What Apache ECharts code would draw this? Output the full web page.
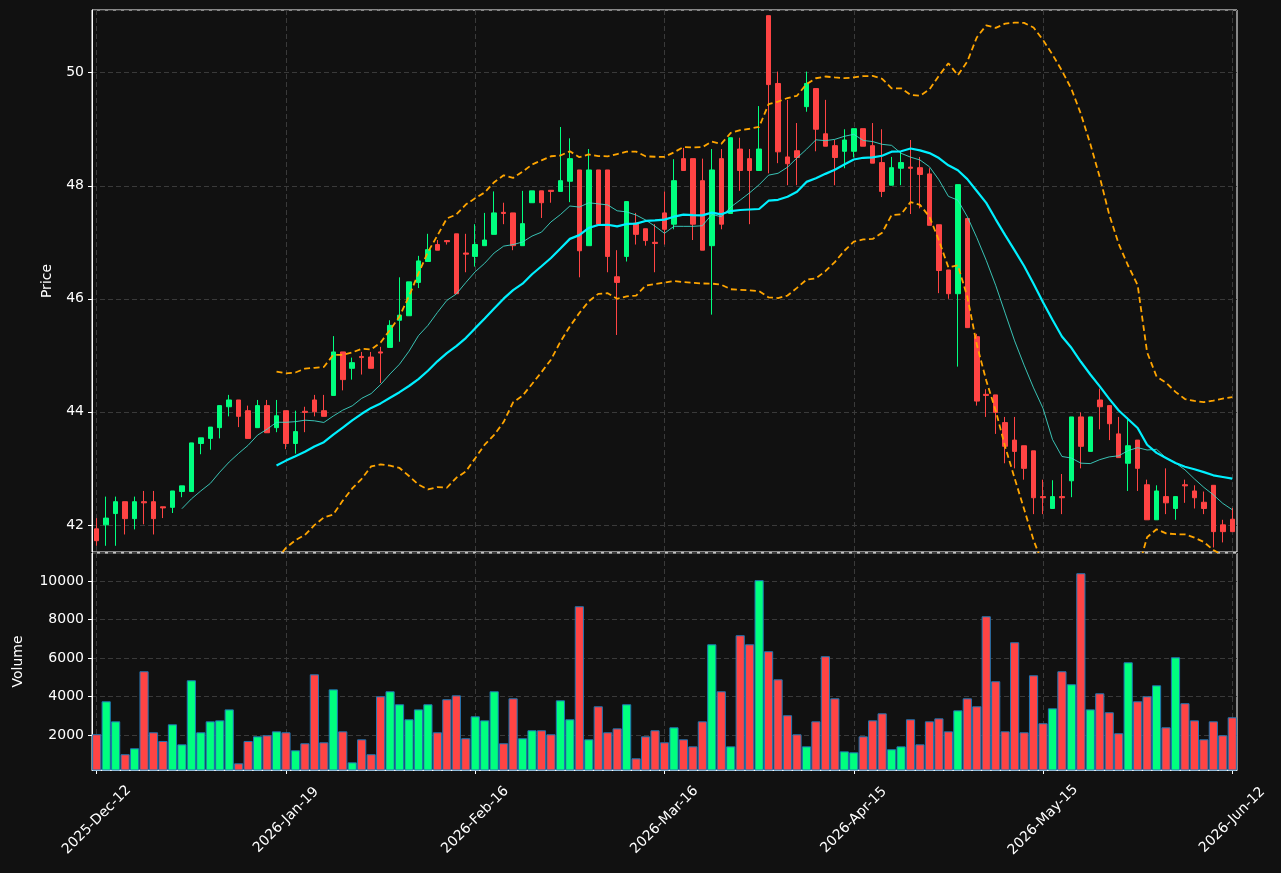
<!DOCTYPE html>
<html>
<head>
<meta charset="utf-8">
<script src="https://cdn.jsdelivr.net/npm/echarts@6/dist/echarts.min.js"></script>
<style>
  html, body { margin: 0; padding: 0; background: #111111; }
  #box { width: 1281px; height: 873px; }
</style>
</head>
<body>
<div id="box"></div>
<script>
// tick labels shown every 20 bars
const tickStep = 20;
const tickLabels = ["2025-Dec-12", "2026-Jan-19", "2026-Feb-16", "2026-Mar-16", "2026-Apr-15", "2026-May-15", "2026-Jun-12"];

// OHLC
const opens = [
  41.93, 42.00, 42.20, 42.41, 42.11, 42.41, 42.41, 42.32, 42.31, 42.59,
  42.59, 43.44, 43.53, 43.72, 44.09, 44.21, 44.02, 43.72, 44.11, 43.72,
  44.02, 43.44, 44.01, 44.21, 44.02, 44.29, 45.06, 44.77, 44.98, 44.97,
  45.06, 45.14, 45.62, 45.70, 46.29, 46.66, 46.96, 47.03, 47.15, 46.81,
  46.75, 46.94, 47.14, 47.53, 47.52, 46.94, 47.70, 47.91, 47.92, 47.90,
  48.08, 48.28, 46.94, 48.28, 48.28, 46.39, 46.75, 47.34, 47.24, 47.00,
  47.52, 47.32, 48.48, 48.48, 48.09, 46.94, 48.48, 47.51, 48.65, 48.48,
  48.27, 51.01, 49.81, 48.51, 48.62, 49.40, 49.72, 48.92, 48.71, 48.61,
  48.61, 49.01, 48.71, 48.41, 48.01, 48.31, 48.33, 48.32, 48.21, 47.31,
  46.51, 46.09, 47.42, 45.33, 44.31, 44.30, 43.81, 43.50, 43.40, 43.31,
  42.50, 42.29, 42.50, 42.78, 43.91, 43.30, 44.21, 44.11, 43.61, 43.09,
  43.50, 42.71, 42.09, 42.50, 42.29, 42.71, 42.60, 42.40, 42.70, 42.00,
  42.10
];
const closes = [
  41.72, 42.12, 42.41, 42.11, 42.41, 42.39, 42.11, 42.30, 42.60, 42.69,
  43.45, 43.54, 43.73, 44.11, 44.21, 43.92, 43.53, 44.11, 43.63, 43.93,
  43.44, 43.65, 43.99, 44.00, 43.92, 45.06, 44.57, 44.87, 44.96, 44.77,
  45.04, 45.53, 45.71, 46.30, 46.67, 46.87, 46.86, 47.01, 46.09, 46.79,
  46.96, 47.04, 47.52, 47.51, 46.94, 47.33, 47.91, 47.70, 47.90, 48.09,
  48.48, 46.85, 48.28, 47.32, 46.75, 46.29, 47.72, 47.14, 47.03, 46.98,
  47.23, 48.09, 48.27, 47.32, 46.86, 48.28, 47.32, 48.85, 48.27, 48.27,
  48.65, 49.79, 48.60, 48.39, 48.50, 49.81, 49.00, 48.70, 48.50, 48.81,
  49.01, 48.70, 48.40, 47.90, 48.32, 48.41, 48.31, 48.20, 47.30, 46.50,
  46.09, 48.02, 45.49, 44.19, 44.29, 43.99, 43.39, 43.30, 43.00, 42.48,
  42.48, 42.50, 42.48, 43.91, 43.39, 43.91, 44.09, 43.79, 43.19, 43.40,
  43.00, 42.09, 42.60, 42.39, 42.50, 42.69, 42.48, 42.29, 41.88, 41.88,
  41.88
];
const lows = [
  41.63, 41.63, 41.63, 41.83, 41.92, 42.01, 41.83, 42.12, 42.21, 42.49,
  42.59, 43.25, 43.33, 43.53, 43.92, 43.73, 43.53, 43.72, 43.63, 43.64,
  43.34, 43.26, 43.64, 43.92, 43.92, 44.29, 44.38, 44.57, 44.66, 44.77,
  44.51, 45.14, 45.24, 45.70, 46.19, 46.66, 46.86, 46.96, 46.09, 46.47,
  46.57, 46.94, 47.14, 47.32, 46.86, 46.94, 47.70, 47.43, 47.70, 47.90,
  47.71, 46.38, 46.94, 47.32, 46.47, 45.36, 46.66, 46.96, 46.94, 46.47,
  46.96, 47.23, 48.27, 47.04, 46.86, 45.72, 47.23, 47.51, 47.91, 47.32,
  48.27, 48.22, 48.40, 48.01, 48.01, 49.31, 48.61, 48.70, 48.01, 48.31,
  48.50, 48.70, 48.40, 47.80, 48.01, 48.01, 47.50, 47.60, 47.30, 46.10,
  46.00, 44.80, 45.49, 44.11, 43.91, 43.61, 43.09, 43.00, 42.80, 42.19,
  42.19, 42.29, 42.19, 42.49, 43.00, 43.30, 43.69, 43.50, 43.19, 42.60,
  42.60, 42.09, 42.09, 42.19, 42.09, 42.39, 42.29, 42.19, 41.60, 41.69,
  41.88
];
const highs = [
  42.12, 42.50, 42.50, 42.41, 42.50, 42.60, 42.60, 42.32, 42.60, 42.69,
  43.45, 43.54, 43.73, 44.11, 44.30, 44.21, 44.11, 44.21, 44.21, 44.21,
  44.02, 44.02, 44.09, 44.30, 44.30, 45.34, 45.06, 44.96, 45.06, 45.06,
  45.15, 45.62, 46.38, 46.30, 46.76, 47.15, 47.04, 47.04, 47.15, 47.15,
  47.32, 47.52, 47.90, 47.70, 47.52, 47.91, 47.91, 47.91, 47.92, 49.04,
  48.84, 48.28, 48.65, 48.28, 48.28, 46.86, 47.72, 47.52, 47.24, 47.32,
  47.90, 48.47, 48.67, 48.48, 48.48, 48.65, 48.65, 48.85, 48.85, 48.65,
  49.41, 51.01, 50.02, 49.52, 49.11, 50.02, 49.72, 49.52, 48.81, 49.00,
  49.01, 49.01, 49.11, 49.00, 48.51, 48.60, 48.81, 48.51, 48.31, 47.31,
  46.51, 48.02, 47.42, 45.38, 44.40, 44.30, 43.91, 43.91, 43.40, 43.31,
  42.80, 42.79, 42.90, 43.91, 43.99, 43.91, 44.41, 44.11, 43.91, 43.90,
  43.50, 42.80, 42.70, 43.00, 42.50, 42.80, 42.70, 42.59, 42.70, 42.09,
  42.30
];
const volumes = [
  2040, 3750, 2710, 1000, 1310, 5310, 2140, 1690, 2555, 1515,
  4840, 2140, 2710, 2760, 3330, 530, 1690, 1930, 1985, 2190,
  2140, 1205, 1570, 5150, 1620, 4370, 2190, 580, 1775, 1000,
  4010, 4270, 3595, 2815, 3330, 3595, 2140, 3855, 4060, 1830,
  2970, 2760, 4270, 1570, 3905, 1830, 2245, 2245, 2036, 3800,
  2815, 8685, 1775, 3490, 2140, 2345, 3595, 790, 1930, 2245,
  1620, 2400, 1775, 1410, 2710, 6710, 4270, 1410, 7180, 6710,
  10040, 6350, 4890, 3025, 2036, 1410, 2710, 6090, 3905, 1150,
  1100, 1930, 2760, 3125, 1260, 1410, 2815, 1515, 2710, 2865,
  2190, 3280, 3905, 3490, 8165, 4790, 2190, 6815, 2140, 5100,
  2610, 3385, 5310, 4635, 10400, 3330, 4165, 3180, 2090, 5775,
  3750, 4010, 4580, 2400, 6035, 3650, 2760, 1775, 2710, 1985,
  2920
];

const upColor = "#00ff7f";
const downColor = "#ff4444";
const textColor = "#ffffff";
const gridColor = "#3a3a3a";

function sma(arr, n) {
  return arr.map((v, i) => {
    if (i < n - 1) return "-";
    let s = 0;
    for (let k = i - n + 1; k <= i; k++) s += arr[k];
    return s / n;
  });
}
function band(arr, n, mult) {
  let mid = sma(arr, n),
    up = [],
    lo = [];
  arr.forEach((v, i) => {
    if (i < n - 1) {
      up.push("-");
      lo.push("-");
      return;
    }
    let ss = 0;
    for (let k = i - n + 1; k <= i; k++) ss += Math.pow(arr[k] - mid[i], 2);
    let sd = Math.sqrt(ss / (n - 1));
    up.push(mid[i] + mult * sd);
    lo.push(mid[i] - mult * sd);
  });
  return { up, lo };
}

let categories = opens.map((_, i) => i);
let ma10 = sma(closes, 10);
let ma20 = sma(closes, 20);
let bb = band(closes, 20, 2);
let ohlc = opens.map((o, i) => [o, closes[i], lows[i], highs[i]]);
let volData = volumes.map((v, i) => ({
  value: v,
  itemStyle: { color: closes[i] >= opens[i] ? upColor : downColor }
}));

let showTick = i => i % tickStep === 0;
let font = { fontFamily: "DejaVu Sans", fontSize: 14, color: textColor };

let chart = echarts.init(document.getElementById("box"), null, { renderer: "canvas" });
let option = {
  backgroundColor: "#111111",
  animation: false,
  grid: [
    { left: 92, right: 44, top: 10, height: 542, show: true, borderColor: "#ffffff", borderWidth: 1, backgroundColor: "transparent" },
    { left: 92, right: 44, top: 553, height: 217, show: true, borderColor: "#ffffff", borderWidth: 1, backgroundColor: "transparent" }
  ],
  xAxis: [
    {
      type: "category",
      gridIndex: 0,
      data: categories,
      boundaryGap: true,
      axisLine: { show: false },
      axisTick: { show: false },
      axisLabel: { show: false },
      splitLine: {
        show: true,
        interval: (i) => showTick(i),
        alignWithLabel: true,
        lineStyle: { color: gridColor, type: [5, 3], width: 1 }
      }
    },
    {
      type: "category",
      gridIndex: 1,
      data: categories,
      boundaryGap: true,
      axisLine: { show: true, lineStyle: { color: "#ffffff" } },
      axisTick: { show: true, interval: (i) => showTick(i), alignWithLabel: true, length: 4, lineStyle: { color: "#ffffff" } },
      axisLabel: {
        ...font,
        interval: (i) => showTick(i),
        rotate: 45,
        align: "center",
        verticalAlign: "middle",
        margin: 50,
        formatter: (v) => tickLabels[Math.round(v / tickStep)] || ""
      },
      splitLine: {
        show: true,
        interval: (i) => showTick(i),
        alignWithLabel: true,
        lineStyle: { color: gridColor, type: [5, 3], width: 1 }
      }
    }
  ],
  yAxis: [
    {
      type: "value",
      gridIndex: 0,
      min: 41.52,
      max: 51.11,
      splitNumber: 5,
      name: "Price",
      nameLocation: "middle",
      nameGap: 38,
      nameTextStyle: font,
      axisLine: { show: true, lineStyle: { color: "#ffffff" } },
      axisTick: { show: true, length: 4, lineStyle: { color: "#ffffff" } },
      axisLabel: { ...font, margin: 8, showMinLabel: false, showMaxLabel: false },
      splitLine: { show: true, lineStyle: { color: gridColor, type: [5, 3], width: 1 } }
    },
    {
      type: "value",
      gridIndex: 1,
      min: 182,
      max: 11450,
      splitNumber: 5,
      name: "Volume",
      nameLocation: "middle",
      nameGap: 67,
      nameTextStyle: font,
      axisLine: { show: true, lineStyle: { color: "#ffffff" } },
      axisTick: { show: true, length: 4, lineStyle: { color: "#ffffff" } },
      axisLabel: { ...font, margin: 8, showMinLabel: false, showMaxLabel: false, formatter: (v) => String(v) },
      splitLine: { show: true, lineStyle: { color: gridColor, type: [5, 3], width: 1 } }
    }
  ],
  series: [
    {
      name: "OHLC",
      type: "candlestick",
      xAxisIndex: 0,
      yAxisIndex: 0,
      data: ohlc,
      barWidth: 5,
      itemStyle: {
        color: upColor,
        color0: downColor,
        borderColor: upColor,
        borderColor0: downColor,
        borderWidth: 1
      },
      z: 2
    },
    {
      name: "MA10",
      type: "line",
      xAxisIndex: 0,
      yAxisIndex: 0,
      data: ma10,
      showSymbol: false,
      lineStyle: { color: "#40e0d0", width: 1, opacity: 0.85 },
      z: 3
    },
    {
      name: "MA20",
      type: "line",
      xAxisIndex: 0,
      yAxisIndex: 0,
      data: ma20,
      showSymbol: false,
      lineStyle: { color: "#00f0ff", width: 2.2 },
      z: 3
    },
    {
      name: "BB upper",
      type: "line",
      xAxisIndex: 0,
      yAxisIndex: 0,
      data: bb.up,
      showSymbol: false,
      lineStyle: { color: "#ffa500", width: 1.8, type: [6, 3.5] },
      z: 3
    },
    {
      name: "BB lower",
      type: "line",
      xAxisIndex: 0,
      yAxisIndex: 0,
      data: bb.lo,
      showSymbol: false,
      lineStyle: { color: "#ffa500", width: 1.8, type: [6, 3.5] },
      z: 3
    },
    {
      name: "Volume",
      type: "bar",
      xAxisIndex: 1,
      yAxisIndex: 1,
      data: volData,
      barCategoryGap: "3%",
      itemStyle: { borderColor: "#1f77b4", borderWidth: 1 },
      z: 2
    }
  ]
};
chart.setOption(option);
</script>
</body>
</html>
